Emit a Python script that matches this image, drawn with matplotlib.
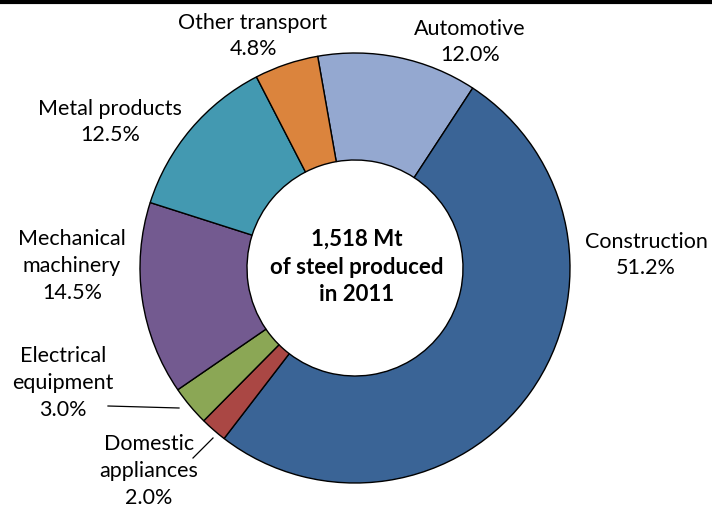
import matplotlib.pyplot as plt
from matplotlib.lines import Line2D

plt.rcParams['font.family'] = ['Lato', 'DejaVu Sans']

sectors = ["Automotive", "Construction", "Domestic\nappliances", "Electrical\nequipment",
           "Mechanical\nmachinery", "Metal products", "Other transport"]
shares = [12.0, 51.2, 2.0, 3.0, 14.5, 12.5, 4.8]
colors = ["#94A8D0", "#3A6496", "#AA4744", "#8BA755", "#735A90", "#4399B1", "#DB843D"]

# label anchor points in pixels (x, y from top)
label_pos = [(470, 42), (646, 255), (149, 471), (63, 383), (72, 266), (110, 122), (253, 36)]

W, H = 712, 512
fig = plt.figure(figsize=(W / 100, H / 100), dpi=100)
ax = fig.add_axes([0, 0, 1, 1])

ax.pie(shares, colors=colors, startangle=100, counterclock=False,
       center=(355, H - 268), radius=215, frame=True,
       wedgeprops=dict(width=107, edgecolor="black", linewidth=1.0))
ax.set_xlim(0, W)
ax.set_ylim(0, H)
ax.set_aspect("equal")
ax.axis("off")

for name, val, (x, y) in zip(sectors, shares, label_pos):
    ax.text(x, H - y, f"{name}\n{val:.1f}%", ha="center", va="center",
            fontsize=15.5, linespacing=1.42, color="black")

ax.text(357, H - 267, "1,518 Mt\nof steel produced\nin 2011", ha="center", va="center",
        fontsize=16, fontweight="bold", linespacing=1.38)

# leader lines
ax.add_line(Line2D([108, 179], [H - 406, H - 408], color="black", lw=0.9))
ax.add_line(Line2D([193, 213], [H - 458, H - 438], color="black", lw=0.9))

# top rule
ax.add_line(Line2D([0, W], [H - 1.5, H - 1.5], color="black", lw=3))

fig.savefig("out.png", dpi=100)
